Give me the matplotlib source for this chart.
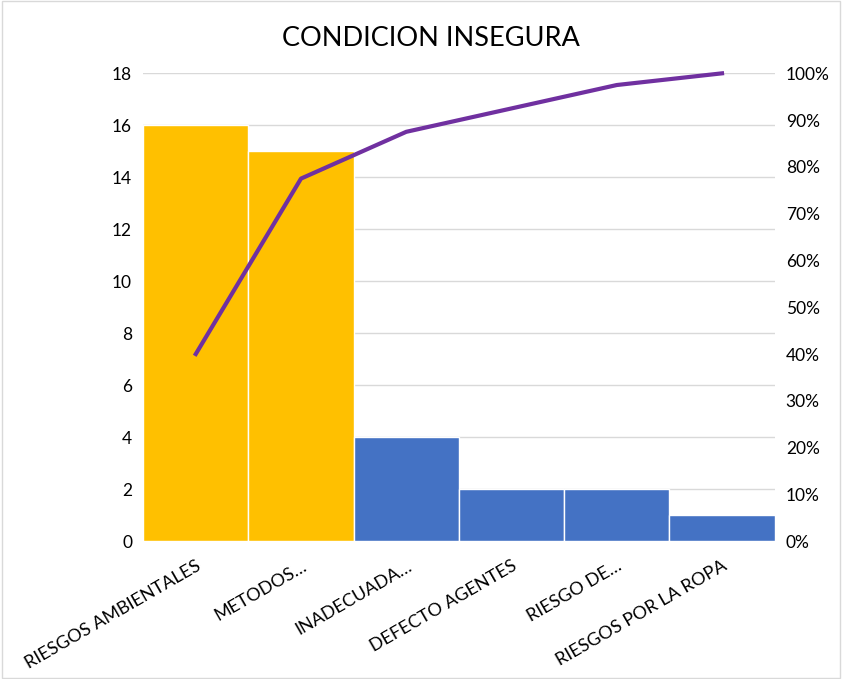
import numpy as np
import matplotlib.pyplot as plt
from matplotlib.patches import Rectangle
from matplotlib.ticker import FuncFormatter

plt.rcParams['font.family'] = ['Lato', 'DejaVu Sans']

categorias = ['RIESGOS AMBIENTALES', 'METODOS…', 'INADECUADA…',
              'DEFECTO AGENTES', 'RIESGO DE…', 'RIESGOS POR LA ROPA']
frecuencia = [16, 15, 4, 2, 2, 1]
colores = ['#FFC000', '#FFC000', '#4472C4', '#4472C4', '#4472C4', '#4472C4']

acumulado = np.cumsum(frecuencia) / np.sum(frecuencia) * 100

fig = plt.figure(figsize=(8.42, 6.79), dpi=100)
fig.patches.append(Rectangle((0.002, 0.002), 0.996, 0.996, transform=fig.transFigure,
                             fill=False, edgecolor='#D9D9D9', linewidth=1))
ax = fig.add_axes([0.170, 0.203, 0.750, 0.689])
x = np.arange(len(categorias))
ax.bar(x, frecuencia, width=1.0, color=colores, edgecolor='white', linewidth=1, zorder=2)
ax.set_xlim(-0.5, len(categorias) - 0.5)
ax.set_ylim(0, 18)
ax.set_yticks(range(0, 19, 2))
ax.grid(axis='y', color='#D9D9D9', linewidth=1, zorder=0)
ax.set_axisbelow(True)
for s in ax.spines.values():
    s.set_visible(False)
ax.tick_params(axis='both', length=0, labelsize=12.5, pad=8)
ax.set_xticks(x)
ax.set_xticklabels(categorias, rotation=30, ha='right', rotation_mode='anchor', fontsize=13)
ax.tick_params(axis='x', pad=12)

ax2 = ax.twinx()
ax2.plot(x, acumulado, color='#7030A0', linewidth=3, zorder=3, clip_on=False)
ax2.set_ylim(0, 100)
ax2.set_yticks(range(0, 101, 10))
ax2.yaxis.set_major_formatter(FuncFormatter(lambda v, p: f'{int(v)}%'))
for s in ax2.spines.values():
    s.set_visible(False)
ax2.tick_params(axis='y', length=0, labelsize=12.5, pad=8)

fig.text(0.512, 0.944, 'CONDICION INSEGURA', ha='center', va='center', fontsize=19.5)

fig.savefig('out.png', dpi=100)
